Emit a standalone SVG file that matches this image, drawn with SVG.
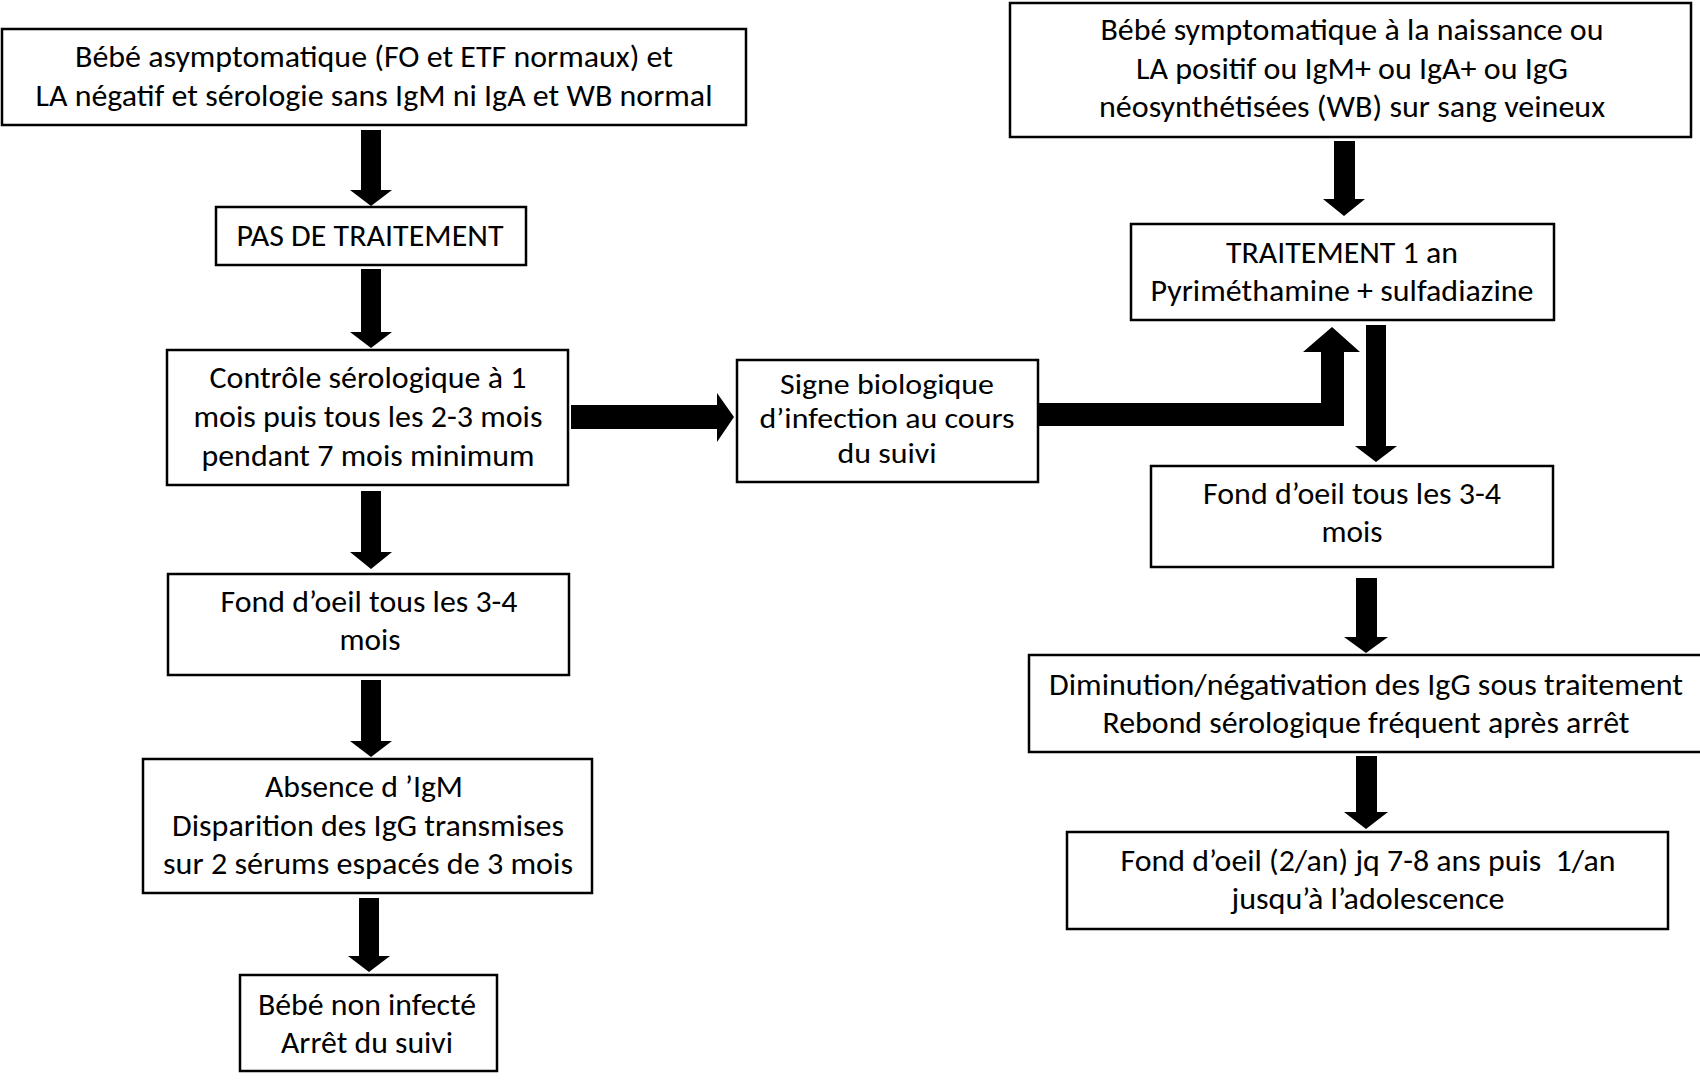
<svg xmlns="http://www.w3.org/2000/svg" width="1700" height="1082" viewBox="0 0 1700 1082">
<style>
.box{fill:#fff;stroke:#000;stroke-width:2.5}
.t{font-family:Carlito,Lato,"Liberation Sans",sans-serif;font-size:31px;fill:#000;text-anchor:middle}
.s{font-size:28.5px}
.ar{fill:#000}
</style>
<rect width="1700" height="1082" fill="#fff"/>
<g id="connectors">
<polygon class="ar" points="361,130 381,130 381,190 392,190 371,206 350,190 361,190"/>
<polygon class="ar" points="361,269 381,269 381,332 392,332 371,348 350,332 361,332"/>
<polygon class="ar" points="361,491 381,491 381,552 392,552 371,569 350,552 361,552"/>
<polygon class="ar" points="361,680 381,680 381,741 392,741 371,757 350,741 361,741"/>
<polygon class="ar" points="359,898 379,898 379,956 390,956 369,972 348,956 359,956"/>
<polygon class="ar" points="571,405 717,405 717,393 734,417 717,442 717,429 571,429"/>
<polygon class="ar" points="1039,403 1321,403 1321,352 1303,352 1332,327 1360,352 1344,352 1344,426 1039,426"/>
<polygon class="ar" points="1334,141 1355,141 1355,199 1365,199 1344,216 1323,199 1334,199"/>
<polygon class="ar" points="1366,325 1386,325 1386,446 1397,446 1376,462 1355,446 1366,446"/>
<polygon class="ar" points="1356,578 1377,578 1377,637 1388,637 1366,653 1344,637 1356,637"/>
<polygon class="ar" points="1356,756 1377,756 1377,812 1388,812 1366,829 1344,812 1356,812"/>
</g>
<g id="n1">
<rect class="box" x="2" y="29" width="744" height="96"/>
<text class="t" x="374" y="67" textLength="598" lengthAdjust="spacingAndGlyphs">Bébé asymptomatique (FO et ETF normaux) et</text>
<text class="t" x="374" y="106" textLength="677" lengthAdjust="spacingAndGlyphs">LA négatif et sérologie sans IgM ni IgA et WB normal</text>
</g>
<g id="n2">
<rect class="box" x="216" y="207" width="310" height="58"/>
<text class="t" x="370" y="246" textLength="267" lengthAdjust="spacingAndGlyphs">PAS DE TRAITEMENT</text>
</g>
<g id="n3">
<rect class="box" x="167" y="350" width="401" height="135"/>
<text class="t" x="368" y="388" textLength="317" lengthAdjust="spacingAndGlyphs">Contrôle sérologique à 1</text>
<text class="t" x="368" y="427" textLength="349" lengthAdjust="spacingAndGlyphs">mois puis tous les 2-3 mois</text>
<text class="t" x="368" y="466" textLength="333" lengthAdjust="spacingAndGlyphs">pendant 7 mois minimum</text>
</g>
<g id="n4">
<rect class="box" x="168" y="574" width="401" height="101"/>
<text class="t" x="369" y="612" textLength="297" lengthAdjust="spacingAndGlyphs">Fond d’oeil tous les 3-4</text>
<text class="t" x="370" y="650" textLength="61" lengthAdjust="spacingAndGlyphs">mois</text>
</g>
<g id="n5">
<rect class="box" x="143" y="759" width="449" height="134"/>
<text class="t" x="364" y="797" textLength="198" lengthAdjust="spacingAndGlyphs">Absence d ’IgM</text>
<text class="t" x="368" y="836" textLength="392" lengthAdjust="spacingAndGlyphs">Disparition des IgG transmises</text>
<text class="t" x="368" y="874" textLength="410" lengthAdjust="spacingAndGlyphs">sur 2 sérums espacés de 3 mois</text>
</g>
<g id="n6">
<rect class="box" x="240" y="975" width="257" height="96"/>
<text class="t" x="367" y="1015" textLength="218" lengthAdjust="spacingAndGlyphs">Bébé non infecté</text>
<text class="t" x="367" y="1053" textLength="172" lengthAdjust="spacingAndGlyphs">Arrêt du suivi</text>
</g>
<g id="n7">
<rect class="box" x="737" y="360" width="301" height="122"/>
<text class="t s" x="887" y="394" textLength="214" lengthAdjust="spacingAndGlyphs">Signe biologique</text>
<text class="t s" x="887" y="428" textLength="255" lengthAdjust="spacingAndGlyphs">d’infection au cours</text>
<text class="t s" x="887" y="463" textLength="99" lengthAdjust="spacingAndGlyphs">du suivi</text>
</g>
<g id="n8">
<rect class="box" x="1010" y="3" width="681" height="134"/>
<text class="t" x="1352" y="40" textLength="503" lengthAdjust="spacingAndGlyphs">Bébé symptomatique à la naissance ou</text>
<text class="t" x="1352" y="79" textLength="432" lengthAdjust="spacingAndGlyphs">LA positif ou IgM+ ou IgA+ ou IgG</text>
<text class="t" x="1352" y="117" textLength="506" lengthAdjust="spacingAndGlyphs">néosynthétisées (WB) sur sang veineux</text>
</g>
<g id="n9">
<rect class="box" x="1131" y="224" width="423" height="96"/>
<text class="t" x="1342" y="263" textLength="232" lengthAdjust="spacingAndGlyphs">TRAITEMENT 1 an</text>
<text class="t" x="1342" y="301" textLength="383" lengthAdjust="spacingAndGlyphs">Pyriméthamine + sulfadiazine</text>
</g>
<g id="n10">
<rect class="box" x="1151" y="466" width="402" height="101"/>
<text class="t" x="1352" y="504" textLength="298" lengthAdjust="spacingAndGlyphs">Fond d’oeil tous les 3-4</text>
<text class="t" x="1352" y="542" textLength="61" lengthAdjust="spacingAndGlyphs">mois</text>
</g>
<g id="n11">
<rect class="box" x="1029" y="655" width="674" height="97"/>
<text class="t" x="1366" y="695" textLength="634" lengthAdjust="spacingAndGlyphs">Diminution/négativation des IgG sous traitement</text>
<text class="t" x="1366" y="733" textLength="527" lengthAdjust="spacingAndGlyphs">Rebond sérologique fréquent après arrêt</text>
</g>
<g id="n12">
<rect class="box" x="1067" y="832" width="601" height="97"/>
<text class="t" x="1368" y="871" textLength="495" lengthAdjust="spacingAndGlyphs" xml:space="preserve">Fond d’oeil (2/an) jq 7-8 ans puis  1/an</text>
<text class="t" x="1368" y="909" textLength="273" lengthAdjust="spacingAndGlyphs">jusqu’à l’adolescence</text>
</g>
</svg>
